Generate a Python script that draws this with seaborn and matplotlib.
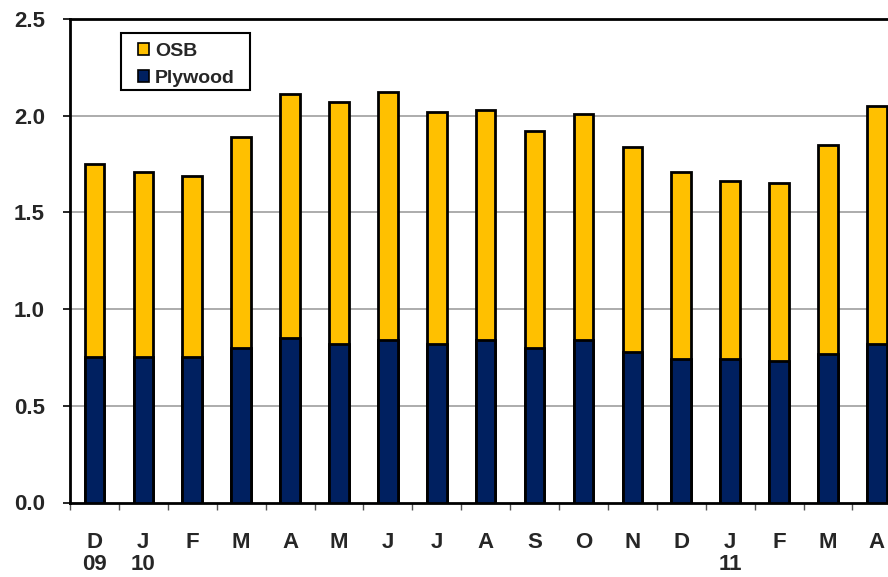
import matplotlib
matplotlib.use("Agg")
import matplotlib.pyplot as plt
from matplotlib.patches import Patch, Rectangle
from matplotlib.ticker import FixedLocator, NullFormatter
import pandas as pd
import seaborn as sns

# Monthly series, Dec 2009 through Apr 2011
periods = ["2009-12", "2010-01", "2010-02", "2010-03", "2010-04", "2010-05",
           "2010-06", "2010-07", "2010-08", "2010-09", "2010-10", "2010-11",
           "2010-12", "2011-01", "2011-02", "2011-03", "2011-04"]
month_labels = ["D", "J", "F", "M", "A", "M", "J", "J", "A", "S", "O", "N",
                "D", "J", "F", "M", "A"]
year_labels = ["09", "10", "", "", "", "", "", "", "", "", "", "", "", "11",
               "", "", ""]
plywood = [0.75, 0.75, 0.75, 0.80, 0.85, 0.82, 0.84, 0.82, 0.84, 0.80, 0.84,
           0.78, 0.74, 0.74, 0.73, 0.77, 0.82]
osb = [1.00, 0.96, 0.94, 1.09, 1.26, 1.25, 1.28, 1.20, 1.19, 1.12, 1.17,
       1.06, 0.97, 0.92, 0.92, 1.08, 1.23]
yticks = [0.0, 0.5, 1.0, 1.5, 2.0, 2.5]

OSB_COLOR = "#FFC000"
PLY_COLOR = "#002060"

df = pd.DataFrame({"period": periods, "Plywood": plywood, "OSB": osb})
df["Total"] = df["Plywood"] + df["OSB"]

sns.set_style("white")
plt.rcParams["font.family"] = ["Liberation Sans", "DejaVu Sans"]
plt.rcParams["font.weight"] = "bold"

W, H = 888, 577
fig = plt.figure(figsize=(W / 100, H / 100), dpi=100)
ax = fig.add_axes([70 / W, 1 - 502.5 / H, 17 * 48.9 / W, 483.5 / H])

bar_kw = dict(width=0.4, edgecolor="black", linewidth=2.0, saturation=1,
              errorbar=None, order=periods, zorder=3)
sns.barplot(data=df, x="period", y="Total", color=OSB_COLOR, ax=ax, **bar_kw)
sns.barplot(data=df, x="period", y="Plywood", color=PLY_COLOR, ax=ax, **bar_kw)

ax.set_xlim(-0.5, len(periods) - 0.5)
ax.set_ylim(0, 2.5)
ax.set_xlabel("")
ax.set_ylabel("")

# y axis
ax.set_yticks(yticks)
ax.set_yticklabels([f"{v:.1f}" for v in yticks], fontsize=16, fontweight="bold")
ax.tick_params(axis="y", length=5, width=1.2, color="black", pad=13, left=True)
for v in yticks[1:-1]:
    ax.axhline(v, color="#a6a6a6", linewidth=1.3, zorder=1)

# x axis: labels at bar centres, tick marks at category boundaries
ax.set_xticks(range(len(periods)))
ax.set_xticklabels([m if not y else f"{m}\n{y}" for m, y in zip(month_labels, year_labels)],
                   fontsize=16, fontweight="bold", va="top", linespacing=1.1)
ax.tick_params(axis="x", which="major", length=0, pad=21)
ax.xaxis.set_minor_locator(FixedLocator([i - 0.5 for i in range(len(periods) + 1)]))
ax.xaxis.set_minor_formatter(NullFormatter())
ax.tick_params(axis="x", which="minor", length=5, width=1.0, color="#555555",
               bottom=True, direction="out")

for side in ["left", "bottom", "top"]:
    ax.spines[side].set_visible(True)
    ax.spines[side].set_color("black")
    ax.spines[side].set_linewidth(2.0)
ax.spines["right"].set_visible(False)

# legend entries, with a wider box drawn around them
handles = [Patch(facecolor=OSB_COLOR, edgecolor="black", linewidth=1.2, label="OSB"),
           Patch(facecolor=PLY_COLOR, edgecolor="black", linewidth=1.2, label="Plywood")]
leg = ax.legend(handles=handles, loc="upper left", bbox_to_anchor=(0.0694, 0.972),
                frameon=False, prop={"size": 14, "weight": "bold"},
                handlelength=0.55, handleheight=0.55, handletextpad=0.3,
                labelspacing=0.5, borderpad=0.55, borderaxespad=0)
leg.set_zorder(6)
ax.add_patch(Rectangle((120.7 / W, 1 - 90 / H), 129.3 / W, 56.7 / H,
                       transform=fig.transFigure, facecolor="white",
                       edgecolor="black", linewidth=1.5, zorder=5,
                       clip_on=False))

fig.savefig("out.png", dpi=100)
